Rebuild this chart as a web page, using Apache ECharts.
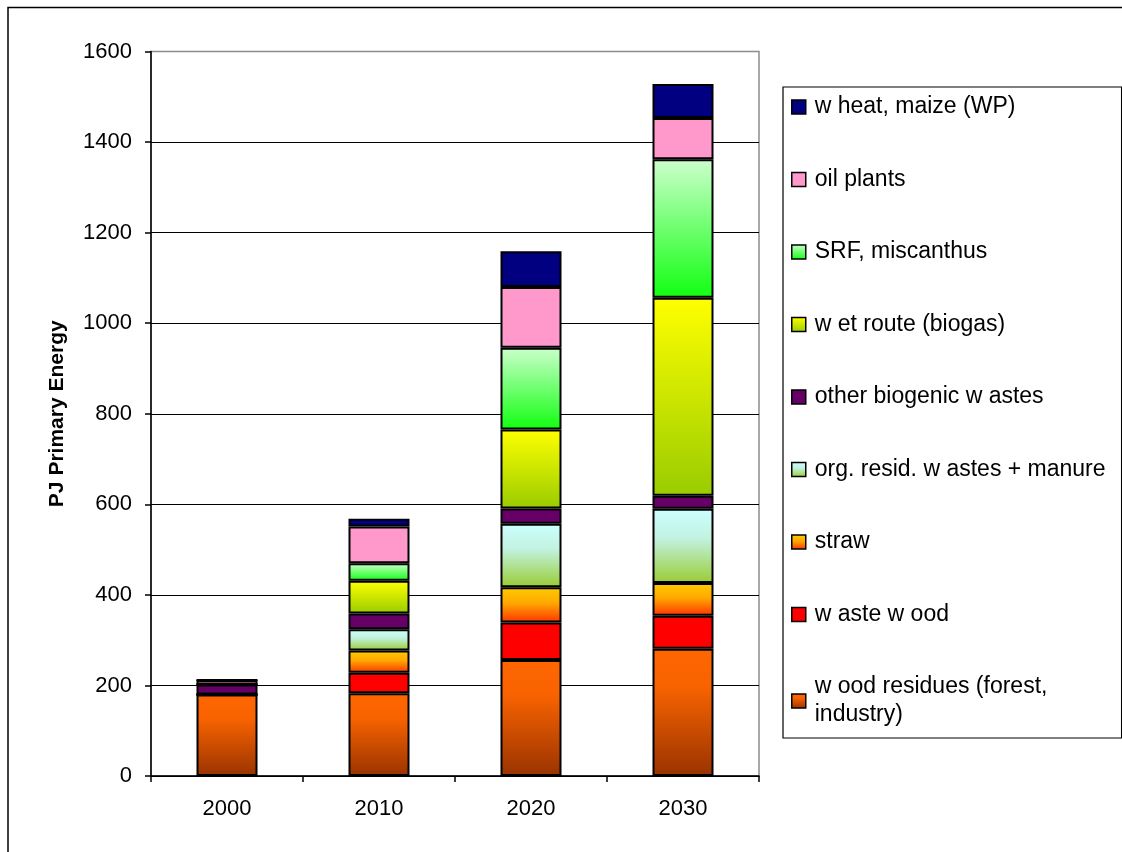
<!DOCTYPE html>
<html>
<head>
<meta charset="utf-8">
<script src="https://cdn.jsdelivr.net/npm/echarts@6/dist/echarts.min.js"></script>
<style>
html,body{margin:0;padding:0;background:#fff;}
#chart{width:1122px;height:852px;}
</style>
</head>
<body>
<div id="chart"></div>
<script>
const categories = ['2000', '2010', '2020', '2030'];
const yTickLabels = ['0', '200', '400', '600', '800', '1000', '1200', '1400', '1600'];

const woodResidues   = [180, 183, 256, 281];
const wasteWood      = [0, 45, 83, 73];
const straw          = [0, 49, 78, 72];
const orgResid       = [0, 47, 140, 164];
const otherBiogenic  = [22, 35, 34, 29];
const wetRoute       = [0, 72, 174, 437];
const srfMiscanthus  = [0, 39, 181, 306];
const oilPlants      = [10, 81, 134, 91];
const wheatMaize     = [0, 17, 79, 75];

const seriesNames = [
  'w ood residues (forest,\nindustry)',
  'w aste w ood',
  'straw',
  'org. resid. w astes + manure',
  'other biogenic w astes',
  'w et route (biogas)',
  'SRF, miscanthus',
  'oil plants',
  'w heat, maize (WP)'
];
const seriesData = [woodResidues, wasteWood, straw, orgResid, otherBiogenic, wetRoute, srfMiscanthus, oilPlants, wheatMaize];

function grad(stops) {
  return new echarts.graphic.LinearGradient(0, 0, 0, 1, stops.map(s => ({offset: s[0], color: s[1]})));
}
const fills = [
  grad([[0, '#FF6600'], [0.3, '#F86300'], [1, '#993300']]),
  '#FF0000',
  grad([[0, '#FFCC00'], [0.45, '#FFA800'], [1, '#FF3300']]),
  grad([[0, '#CCFFFF'], [0.4, '#C2F2E0'], [1, '#99CC33']]),
  '#660066',
  grad([[0, '#FFFF00'], [1, '#99CC00']]),
  grad([[0, '#CCFFCC'], [1, '#11FF11']]),
  '#FF99CC',
  '#000080'
];

const FONT = '"Liberation Sans", Arial, sans-serif';

const chart = echarts.init(document.getElementById('chart'), null, {renderer: 'canvas'});

const series = seriesNames.map((name, i) => ({
  name: name,
  type: 'bar',
  stack: 'total',
  barWidth: 61,
  data: seriesData[i],
  itemStyle: {color: fills[i], borderColor: '#000', borderWidth: 2},
  emphasis: {disabled: true}
}));

chart.setOption({
  animation: false,
  backgroundColor: '#fff',
  textStyle: {fontFamily: FONT},
  grid: {
    left: 151, top: 51.5, right: 363, bottom: 76,
    show: true, borderColor: '#8c8c8c', borderWidth: 1.5, backgroundColor: 'transparent'
  },
  legend: {
    orient: 'vertical',
    left: 783, top: 87,
    padding: [6, 16, 9, 8],
    itemGap: 44.5,
    itemWidth: 14, itemHeight: 14,
    icon: 'rect',
    borderColor: '#000', borderWidth: 1.2,
    backgroundColor: '#fff',
    selectedMode: false,
    itemStyle: {borderColor: '#000', borderWidth: 1.5},
    textStyle: {fontFamily: FONT, fontSize: 23, lineHeight: 28, color: '#000', padding: [0, 0, 0, 4]},
    data: seriesNames.slice().reverse()
  },
  xAxis: {
    type: 'category',
    data: categories,
    axisLine: {lineStyle: {color: '#000', width: 1.5}},
    axisTick: {show: true, length: 6, lineStyle: {color: '#000', width: 1.5}},
    axisLabel: {color: '#000', fontSize: 22, fontFamily: FONT, margin: 22}
  },
  yAxis: {
    type: 'value',
    min: 0, max: 1600, interval: 200,
    name: 'PJ Primary Energy',
    nameLocation: 'middle',
    nameRotate: 90,
    nameGap: 83,
    nameTextStyle: {color: '#000', fontSize: 21, fontWeight: 'bold', fontFamily: FONT},
    axisLine: {show: true, lineStyle: {color: '#000', width: 1.5}},
    axisTick: {show: true, length: 6, lineStyle: {color: '#000', width: 1.5}},
    axisLabel: {
      color: '#000', fontSize: 22, fontFamily: FONT, margin: 19,
      formatter: function (v) { return yTickLabels[Math.round(v / 200)]; }
    },
    splitLine: {show: true, showMaxLine: false, lineStyle: {color: '#000', width: 1.2}}
  },
  graphic: [{
    type: 'rect',
    shape: {x: 8, y: 7.5, width: 1300, height: 1000},
    style: {fill: 'none', stroke: '#000', lineWidth: 1.5},
    silent: true,
    z: -1
  }],
  series: series
});
</script>
</body>
</html>
